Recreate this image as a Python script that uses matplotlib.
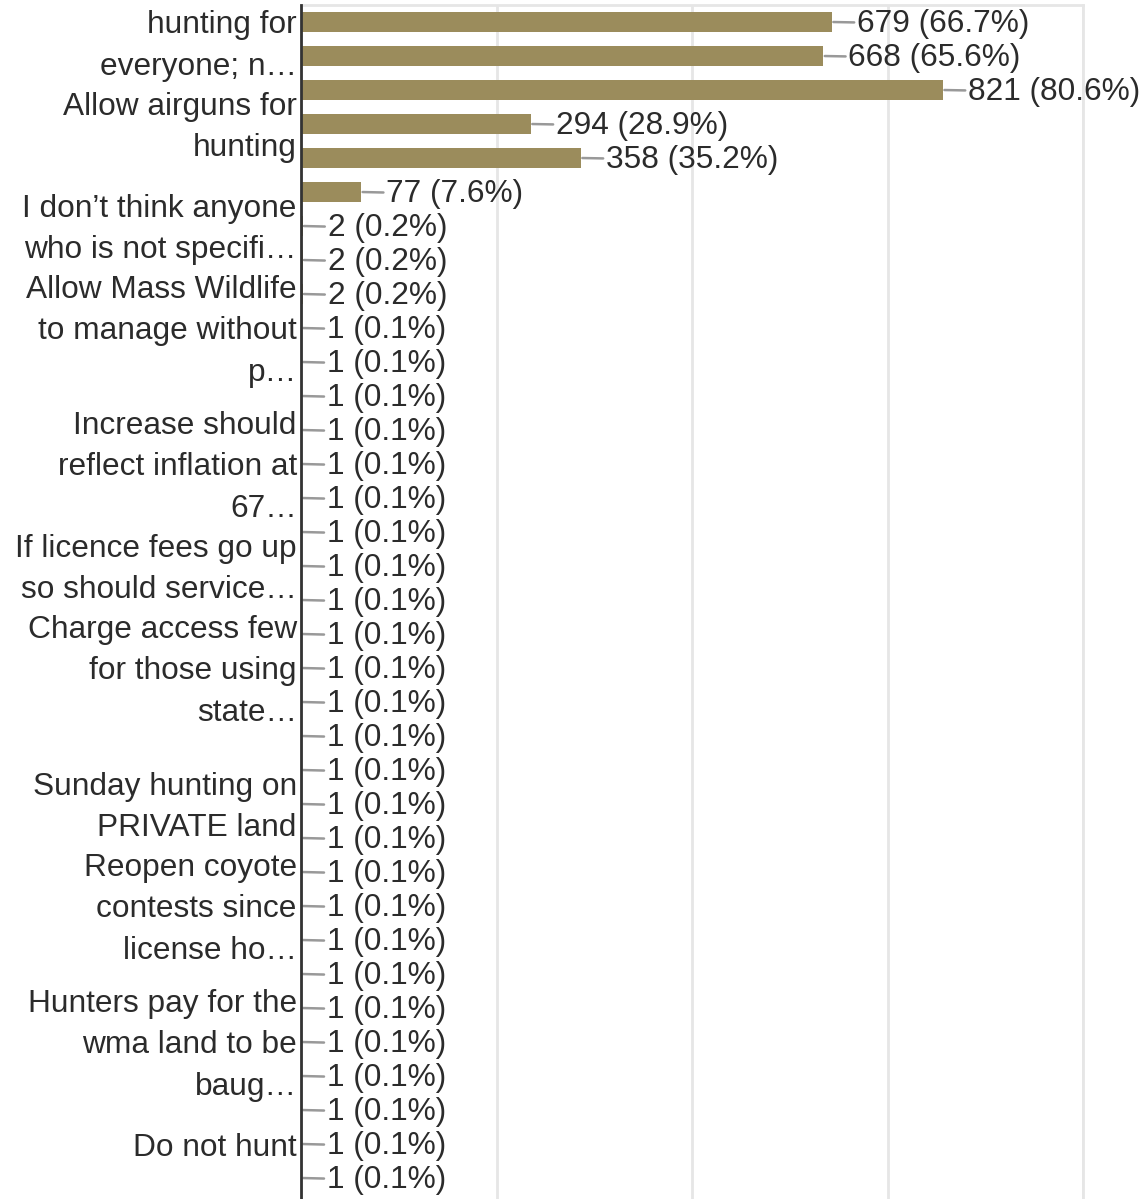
import matplotlib
matplotlib.use("Agg")
import matplotlib.pyplot as plt
import matplotlib.transforms as mtransforms
import numpy as np

plt.rcParams['font.family'] = ['Liberation Sans', 'DejaVu Sans']

# responses per answer, top to bottom
counts = [679, 668, 821, 294, 358, 77, 2, 2, 2] + [1] * 27
pcts = ["66.7", "65.6", "80.6", "28.9", "35.2", "7.6", "0.2", "0.2", "0.2"] + ["0.1"] * 27

# only some rows carry a (wrapped, truncated) label
tick_rows = [0, 3, 6, 9, 13, 16, 19, 23, 26, 30, 33]
tick_labels = [
    "Allow Sunday\nhunting for\neveryone; n…",
    "Allow airguns for\nhunting",
    "I don’t think anyone\nwho is not specifi…",
    "Allow Mass Wildlife\nto manage without\np…",
    "Increase should\nreflect inflation at\n67…",
    "If licence fees go up\nso should service…",
    "Charge access few\nfor those using\nstate…",
    "Sunday hunting on\nPRIVATE land",
    "Reopen coyote\ncontests since\nlicense ho…",
    "Hunters pay for the\nwma land to be\nbaug…",
    "Do not hunt",
]
x_ticks = [0, 250, 500, 750, 1000]

W, H = 1144, 1199
fig = plt.figure(figsize=(W / 100, H / 100), dpi=100)
n = len(counts)
row_px = 34
top_px = 5
left_px, right_px = 301, 1083
ax = fig.add_axes([left_px / W, (H - top_px - n * row_px) / H,
                   (right_px - left_px) / W, n * row_px / H])

y = np.arange(n)
ax.barh(y, counts, height=0.6, color='#9b8c5c', zorder=3)

for yi, c, p in zip(y, counts, pcts):
    ax.annotate(f"{c} ({p}%)", xy=(c, yi), xytext=(18, -1.5), textcoords='offset points',
                ha='left', va='center', fontsize=22.8, color='#2b2b2b',
                annotation_clip=False, zorder=4,
                arrowprops=dict(arrowstyle='-', color='#999999', lw=1.8,
                                shrinkA=0, shrinkB=1))

ax.set_xlim(0, 1000)
ax.set_ylim(n - 0.5, -0.5)
ax.set_xticks(x_ticks)
ax.set_xticklabels([])
ax.tick_params(axis='x', length=0)
ax.grid(axis='x', color='#e6e6e6', lw=2, zorder=0)

ax.set_yticks(tick_rows)
ax.set_yticklabels(tick_labels, fontsize=22.8, color='#2b2b2b', linespacing=1.52)
ax.tick_params(axis='y', length=0, pad=3)
# nudge the wrapped labels up a little
shift = mtransforms.ScaledTranslation(0, 0.06, fig.dpi_scale_trans)
for t, lab in zip(ax.yaxis.get_major_ticks(), tick_labels):
    if "\n" in lab:
        t.label1.set_transform(t.label1.get_transform() + shift)

for s in ['top', 'right', 'bottom']:
    ax.spines[s].set_color('#e6e6e6')
    ax.spines[s].set_linewidth(2)
ax.spines['left'].set_color('#333333')
ax.spines['left'].set_linewidth(2)
ax.spines['left'].set_zorder(5)

fig.savefig("out.png", dpi=100)
